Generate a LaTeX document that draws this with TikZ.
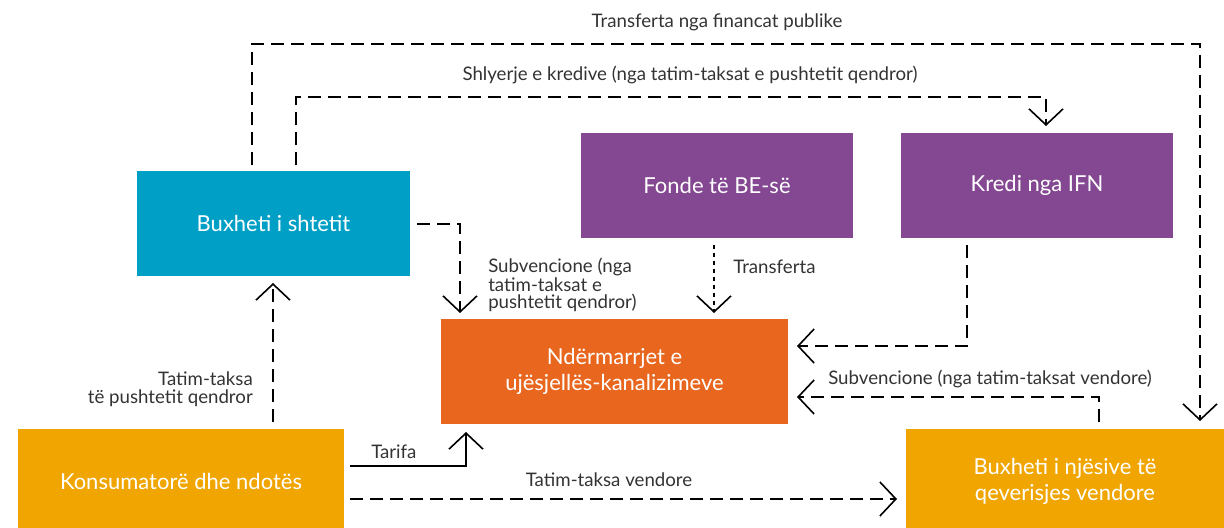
\documentclass[tikz,border=0pt]{standalone}
\usepackage{fontspec}
\setmainfont{Lato}
\usetikzlibrary{arrows.meta}
\definecolor{cblue}{RGB}{0,159,198}
\definecolor{cpurple}{RGB}{132,71,145}
\definecolor{corange}{RGB}{232,102,30}
\definecolor{camber}{RGB}{240,165,0}
\definecolor{ctext}{RGB}{51,51,51}
\tikzset{
  box/.style={fill=#1, text=white, font=\fontsize{16.5}{19.5}\selectfont, align=center, inner sep=0pt},
  lbl/.style={text=ctext, font=\fontsize{14}{12.75}\selectfont, inner sep=0pt},
  flow/.style={line width=1.2pt, -{Straight Barb[length=12pt,width=25.5pt,line width=1.2pt]}},
  dsh/.style={dash pattern=on 9.75pt off 5.25pt},
  dts/.style={dash pattern=on 3pt off 3pt},
}
\begin{document}
\begin{tikzpicture}[x=0.75pt,y=-0.75pt]
\useasboundingbox (0,0) rectangle (1224,528);
% boxes
\fill[cblue] (137,171) rectangle (410,276);
\node[box=cblue] (bsh) at (273.5,223.5) {Buxheti i shtetit};
\fill[cpurple] (581,133) rectangle (853,238);
\node[box=cpurple] (fbe) at (717,185.5) {Fonde të BE-së};
\fill[cpurple] (901,133) rectangle (1173,238);
\node[box=cpurple] (ifn) at (1037,185.5) {Kredi nga IFN};
\fill[corange] (441,319) rectangle (788,424);
\node[box=corange] (nd) at (614.5,371.5) {Ndërmarrjet e\\ujësjellës-kanalizimeve};
\fill[camber] (18,429) rectangle (344,528);
\node[box=camber] (kon) at (181,481) {Konsumatorë dhe ndotës};
\fill[camber] (906,429) rectangle (1224,528);
\node[box=camber] (bnj) at (1065,481) {Buxheti i njësive të\\qeverisjes vendore};
% coordinates
\coordinate (a1) at (252,165); \coordinate (a2) at (1200,421);
\coordinate (b1) at (296,165); \coordinate (b2) at (1046,126);
\coordinate (c1) at (417,224); \coordinate (c2) at (460,313);
\coordinate (d1) at (714,245); \coordinate (d2) at (714,313);
\coordinate (e1) at (967,245); \coordinate (e2) at (797,346);
\coordinate (f1) at (1099,422); \coordinate (f2) at (797,397);
\coordinate (g1) at (273,422); \coordinate (g2) at (273,283);
\coordinate (h1) at (350,466); \coordinate (h2) at (466,432);
\coordinate (i1) at (350,499); \coordinate (i2) at (897,499);
% connectors
\draw[flow,dsh] (a1) |- (1200,44) -- (a2);
\draw[flow,dsh] (b1) |- (1046,97) -- (b2);
\draw[flow,dsh] (c1) -| (c2);
\draw[flow,dts] (d1) -- (d2);
\draw[flow,dsh] (e1) |- (e2);
\draw[flow,dsh] (f1) |- (f2);
\draw[flow,dsh] (g1) -- (g2);
\draw[flow] (h1) -| (h2);
\draw[flow,dsh] (i1) -- (i2);
% labels
\node[lbl] (l1) at (717,22) {Transferta nga financat publike};
\node[lbl] (l2) at (690,75) {Shlyerje e kredive (nga tatim-taksat e pushtetit qendror)};
\node[lbl,anchor=north west,align=left] (l3) at (488,258) {Subvencione (nga\\tatim-taksat e\\pushtetit qendror)};
\node[lbl,anchor=west] (l4) at (733,267) {Transferta};
\node[lbl,anchor=west] (l5) at (828,379) {Subvencione (nga tatim-taksat vendore)};
\node[lbl,anchor=north east,align=right,font=\fontsize{14}{13.5}\selectfont] (l6) at (253,371) {Tatim-taksa\\të pushtetit qendror};
\node[lbl,anchor=west] (l7) at (371,452) {Tarifa};
\node[lbl] (l8) at (609,480) {Tatim-taksa vendore};
\end{tikzpicture}
\end{document}
